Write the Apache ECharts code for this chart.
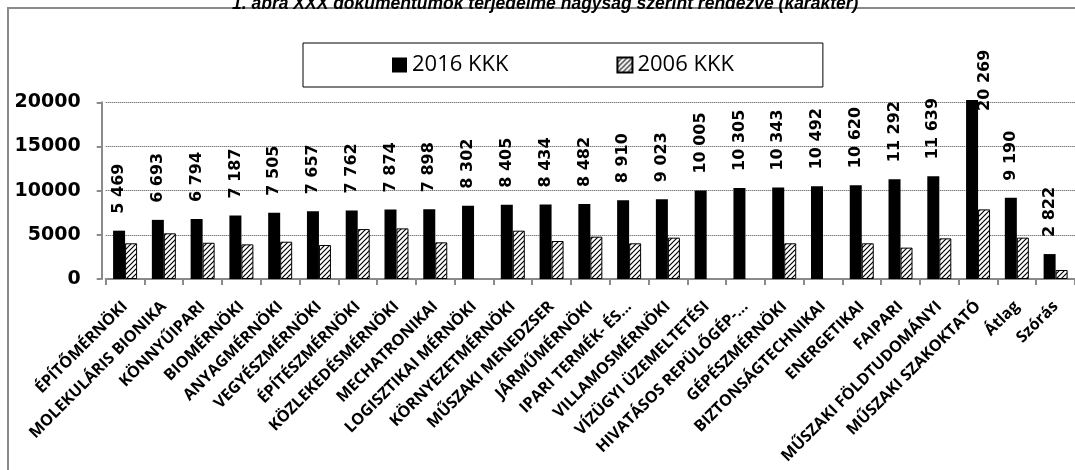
<!DOCTYPE html>
<html>
<head>
<meta charset="utf-8">
<script src="https://cdn.jsdelivr.net/npm/echarts@6/dist/echarts.min.js"></script>
<style>
html,body{margin:0;padding:0;background:#fff;}
#chart{width:1075px;height:470px;}
</style>
</head>
<body>
<div id="chart"></div>
<script>
const titleText = '1. ábra XXX dokumentumok terjedelme nagyság szerint rendezve (karakter)';
const categories = ['ÉPÍTŐMÉRNÖKI','MOLEKULÁRIS BIONIKA','KÖNNYŰIPARI','BIOMÉRNÖKI','ANYAGMÉRNÖKI','VEGYÉSZMÉRNÖKI','ÉPÍTÉSZMÉRNÖKI','KÖZLEKEDÉSMÉRNÖKI','MECHATRONIKAI','LOGISZTIKAI MÉRNÖKI','KÖRNYEZETMÉRNÖKI','MŰSZAKI MENEDZSER','JÁRMŰMÉRNÖKI','IPARI TERMÉK- ÉS...','VILLAMOSMÉRNÖKI','VÍZÜGYI ÜZEMELTETÉSI','HIVATÁSOS REPÜLŐGÉP-...','GÉPÉSZMÉRNÖKI','BIZTONSÁGTECHNIKAI','ENERGETIKAI','FAIPARI','MŰSZAKI FÖLDTUDOMÁNYI','MŰSZAKI SZAKOKTATÓ','Átlag','Szórás'];
const values2016 = [5469,6693,6794,7187,7505,7657,7762,7874,7898,8302,8405,8434,8482,8910,9023,10005,10305,10343,10492,10620,11292,11639,20269,9190,2822];
const values2006 = [4040,5170,4100,3920,4220,3850,5650,5730,4150,null,5470,4300,4790,4040,4680,null,null,4040,null,4040,3550,4600,7880,4680,1020];
const seriesNames = ['2016 KKK','2006 KKK'];
const yTicks = {min:0, max:20000, interval:5000};

function fmt(v){ return String(v).replace(/\B(?=(\d{3})+(?!\d))/g,' '); }

function makeHatch(){
  const s=5; const c=document.createElement('canvas'); c.width=s; c.height=s;
  const g=c.getContext('2d'); g.fillStyle='#fff'; g.fillRect(0,0,s,s);
  g.strokeStyle='#000'; g.lineWidth=1.2; g.beginPath();
  g.moveTo(0,s); g.lineTo(s,0);
  g.moveTo(-1,1); g.lineTo(1,-1);
  g.moveTo(s-1,s+1); g.lineTo(s+1,s-1);
  g.stroke(); return c;
}
const hatch = {image: makeHatch(), repeat:'repeat'};

const data2016 = values2016.map((v,i)=>{
  if (i === 22) {
    return {value:v, label:{position:[19,11]}};
  }
  return v;
});

const chart = echarts.init(document.getElementById('chart'), null, {renderer:'canvas'});
chart.setOption({
  animation:false,
  backgroundColor:'#fff',
  title:{
    text:titleText, left:227, top:-10,
    textStyle:{fontFamily:'Liberation Sans', fontWeight:'bold', fontStyle:'italic', fontSize:17.5, color:'#000'}
  },
  graphic:[{
    type:'rect', z:-1, silent:true,
    shape:{x:8, y:8, width:1200, height:600},
    style:{fill:'none', stroke:'#8a8a8a', lineWidth:2}
  }],
  legend:{
    left:303, top:43, padding:[11,89],
    borderColor:'#000', borderWidth:1,
    itemWidth:15, itemHeight:15, itemGap:108,
    icon:'rect',
    textStyle:{fontFamily:'Open Sans', fontSize:22, color:'#000'},
    data:seriesNames
  },
  grid:{left:105.7, top:102.3, width:970.7, height:176.7, containLabel:false},
  xAxis:{
    type:'category', data:categories,
    axisLine:{lineStyle:{color:'#8a8a8a', width:2}},
    axisTick:{show:true, length:6, lineStyle:{color:'#8a8a8a', width:2}},
    axisLabel:{interval:0, rotate:45, margin:25, color:'#000', fontFamily:'Open Sans', fontWeight:'bold', fontSize:16}
  },
  yAxis:{
    type:'value', min:yTicks.min, max:yTicks.max, interval:yTicks.interval,
    offset:4,
    axisLine:{show:true, lineStyle:{color:'#8a8a8a', width:2}},
    axisTick:{show:true, length:5, lineStyle:{color:'#8a8a8a', width:2}},
    axisLabel:{margin:21, color:'#000', fontFamily:'DejaVu Sans', fontWeight:'bold', fontSize:19, formatter:v=>String(v)},
    splitLine:{show:true, lineStyle:{color:'#444', type:'dotted', width:1}}
  },
  series:[
    {
      name:seriesNames[0], type:'bar', data:data2016, barWidth:12, barGap:'0%', clip:false,
      itemStyle:{color:'#000'},
      label:{show:true, position:'top', distance:17, rotate:90, align:'left', verticalAlign:'middle',
        formatter:p=>fmt(p.value), color:'#000', fontFamily:'DejaVu Sans', fontWeight:'bold', fontSize:16}
    },
    {
      name:seriesNames[1], type:'bar', data:values2006, barWidth:12, barGap:'0%', clip:false,
      itemStyle:{color:hatch, borderColor:'#000', borderWidth:1}
    }
  ]
});
</script>
</body>
</html>
